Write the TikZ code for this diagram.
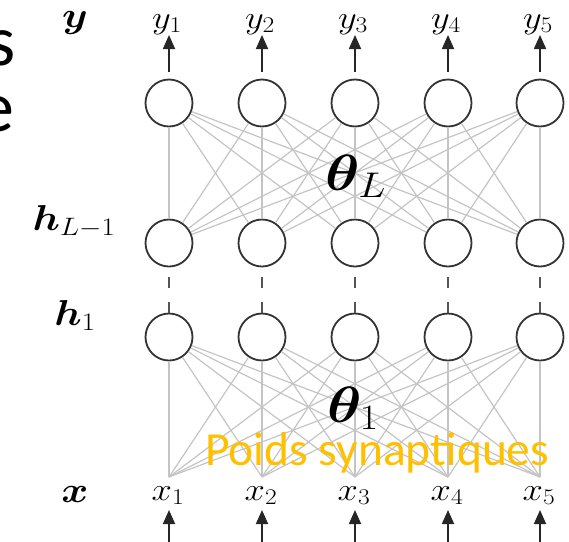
\RequirePackage{fix-cm}
\documentclass[tikz,border=0pt]{standalone}
\usepackage{amsmath,bm}
\usepackage{graphicx}
\usepackage{fontspec}
\newfontfamily\carlito{Carlito}
\usetikzlibrary{arrows.meta}
\definecolor{edgegray}{HTML}{C4C4C4}
\definecolor{ringgray}{HTML}{333333}
\definecolor{dashgray}{HTML}{555555}
\definecolor{poids}{HTML}{FFC000}
\newcommand{\wide}[1]{\scalebox{1.14}[1]{#1}}
\tikzset{
  neuron/.style={circle,draw=ringgray,line width=1.8pt,fill=white,minimum size=47pt,inner sep=0pt},
  wedge/.style={draw=edgegray,line width=1.2pt},
  arr/.style={draw=black!85,line width=1.8pt,-{Triangle[length=14pt,width=12pt]}},
  lbl/.style={inner sep=0pt,anchor=base,font=\fontsize{32}{36}\selectfont},
  rowlbl/.style={inner sep=0pt,anchor=base,font=\fontsize{36}{40}\selectfont},
  thlbl/.style={inner sep=0pt,anchor=base,font=\fontsize{51}{56}\selectfont},
  dashlink/.style={draw=dashgray,line width=2pt,dash pattern=on 11pt off 14pt,dash phase=15pt}
}
\begin{document}
\begin{tikzpicture}[x=1pt,y=-1pt]
\useasboundingbox (0,0) rectangle (569,541);
\begin{scope}
\clip (0,0) rectangle (569,541);
% cut-off slide letters
\node[inner sep=0pt,anchor=base east,font=\carlito\fontsize{72}{80}\selectfont] (ls) at (16,65) {s};
\node[inner sep=0pt,anchor=base east,font=\carlito\fontsize{72}{80}\selectfont] (le) at (15,131) {e};
\end{scope}
% columns
\foreach \i/\cx in {1/169,2/262,3/355,4/448,5/540}{
  \coordinate (in\i) at (\cx,477);
  \coordinate (bot\i) at (\cx,545);
  \coordinate (otip\i) at (\cx,35);
  \coordinate (itip\i) at (\cx,510);
}
\foreach \i/\cx in {1/169,2/262,3/355,4/448,5/540}{
  \node[neuron] (o\i) at (\cx,103) {};
  \node[neuron] (hL\i) at (\cx,243) {};
  \node[neuron] (hA\i) at (\cx,337) {};
}
\foreach \i in {1,...,5}{
  \foreach \j in {1,...,5}{
    \draw[wedge] (o\i) -- (hL\j);
    \draw[wedge] (hA\i) -- (in\j);
  }
}
% dashed links
\foreach \i in {1,...,5}{
  \draw[dashlink] (hL\i.south) -- (hA\i.north);
}
% output labels and arrows
\foreach \i/\cx in {1/169,2/262,3/355,4/448,5/540}{
  \node[lbl] (y\i) at (\cx-2,28) {\wide{$y_{\i}$}};
  \draw[arr,shorten <=7pt] (o\i.north) -- (otip\i);
  \node[lbl] (x\i) at (\cx-1,500) {\wide{$x_{\i}$}};
  \draw[arr] (bot\i) -- (itip\i);
}
% row labels
\node[rowlbl] (ly) at (75,27) {\wide{$\bm{y}$}};
\node[rowlbl] (lhL) at (74,230) {\wide{$\bm{h}_{L-1}$}};
\node[rowlbl] (lh1) at (75,325) {\wide{$\bm{h}_{1}$}};
\node[rowlbl] (lx) at (75,502) {\wide{$\bm{x}$}};
% theta labels
\node[thlbl] (thL) at (356,190) {\wide{$\bm{\theta}_L$}};
\node[thlbl] (th1) at (353,422) {\wide{$\bm{\theta}_1$}};
% annotation
\node[inner sep=0pt,anchor=base west,text=poids,font=\carlito\fontsize{47.5}{52}\selectfont] (poids) at (205,465) {Poids synaptiques};
\end{tikzpicture}
\end{document}
